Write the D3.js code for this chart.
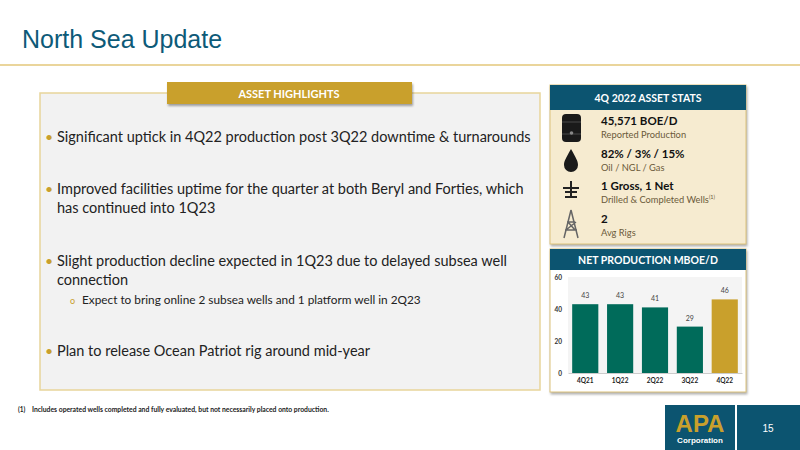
<!DOCTYPE html>
<html><head><meta charset="utf-8">
<script src="https://cdn.jsdelivr.net/npm/d3@7"></script>
<style>body{margin:0;background:#fff}svg{display:block;font-family:Lato,"Open Sans",sans-serif}</style>
</head><body><svg id="s" width="800" height="450"></svg>
<script>
var quarters = ["4Q21", "1Q22", "2Q22", "3Q22", "4Q22"];
var production = [43, 43, 41, 29, 46];
var yTicks = [0, 20, 40, 60];
var bullets = [
  ["Significant uptick in 4Q22 production post 3Q22 downtime & turnarounds"],
  ["Improved facilities uptime for the quarter at both Beryl and Forties, which", "has continued into 1Q23"],
  ["Slight production decline expected in 1Q23 due to delayed subsea well", "connection"],
  ["Plan to release Ocean Patriot rig around mid-year"]
];
var bulletY = [142, 194, 266, 356];
var stats = [
  ["45,571 BOE/D", "Reported Production"],
  ["82% / 3% / 15%", "Oil  / NGL  /  Gas"],
  ["1 Gross, 1 Net", "Drilled & Completed Wells"],
  ["2", "Avg Rigs"]
];
var teal = "#0c5470", gold = "#c9a02c", green = "#006b5a";
var svg = d3.select("#s");

svg.append("text").attr("x", 22).attr("y", 48).attr("font-family", "Liberation Sans, Arial").attr("font-size", 25).attr("fill", "#0d5a78").text("North Sea Update");
svg.append("line").attr("x1", 0).attr("x2", 800).attr("y1", 65).attr("y2", 65).attr("stroke", "#e3c77a").attr("stroke-width", 1.5);

// left panel
svg.append("rect").attr("x", 40).attr("y", 93).attr("width", 500).attr("height", 297).attr("fill", "#f2f2f2").attr("stroke", "#e8d59a").attr("stroke-width", 1.5);
svg.append("rect").attr("x", 167).attr("y", 82).attr("width", 245).attr("height", 22).attr("fill", gold).style("filter", "drop-shadow(1px 2px 1px rgba(0,0,0,.35))");
svg.append("text").attr("x", 289).attr("y", 97.5).attr("text-anchor", "middle").attr("fill", "#fff").attr("font-weight", "bold").attr("font-size", 11).text("ASSET HIGHLIGHTS");

bullets.forEach(function (lines, i) {
  svg.append("text").attr("x", 45).attr("y", bulletY[i]).attr("fill", gold).attr("font-size", 14).text("•");
  lines.forEach(function (l, j) {
    svg.append("text").attr("x", 57).attr("y", bulletY[i] + j * 19).attr("fill", "#222").attr("font-size", 14.5).text(l);
  });
});
svg.append("text").attr("x", 70).attr("y", 304).attr("fill", gold).attr("font-size", 9).text("o");
svg.append("text").attr("x", 82).attr("y", 304).attr("fill", "#222").attr("font-size", 11.8).text("Expect to bring online 2 subsea wells and 1 platform well in 2Q23");

svg.append("text").attr("x", 18).attr("y", 412).attr("font-size", 6.5).attr("font-weight", "bold").attr("fill", "#222").text("(1)");
svg.append("text").attr("x", 32).attr("y", 412).attr("font-size", 6.8).attr("font-weight", "bold").attr("fill", "#222").text("Includes operated wells completed and fully evaluated, but not necessarily placed onto production.");

// stats box
svg.append("rect").attr("x", 550).attr("y", 85).attr("width", 196).attr("height", 159).attr("fill", "#f6ebd0").attr("stroke", "#dcc27a").style("filter", "drop-shadow(1px 2px 1px rgba(0,0,0,.3))");
svg.append("rect").attr("x", 550).attr("y", 85).attr("width", 196).attr("height", 25).attr("fill", teal);
svg.append("text").attr("x", 648).attr("y", 101.5).attr("text-anchor", "middle").attr("fill", "#fff").attr("font-weight", "bold").attr("font-size", 10.5).text("4Q 2022 ASSET STATS");
stats.forEach(function (s, i) {
  var y = 125 + i * 32.5;
  svg.append("text").attr("x", 601).attr("y", y).attr("font-weight", "bold").attr("font-size", 11.5).attr("fill", "#111").text(s[0]);
  var t = svg.append("text").attr("x", 601).attr("y", y + 13).attr("font-size", 9.3).attr("fill", "#6b5a3a").text(s[1]);
  if (i === 2) t.append("tspan").attr("font-size", 5.5).attr("dy", -4).text("(1)");
});
// icons
var ic = svg.append("g").attr("fill", "#1a1a1a");
ic.append("rect").attr("x", 562).attr("y", 114).attr("width", 19).attr("height", 28).attr("rx", 4);
ic.append("path").attr("d", "M562,122h19M562,134h19").attr("stroke", "#555").attr("stroke-width", 0.8);
ic.append("circle").attr("cx", 571.5).attr("cy", 133).attr("r", 1.8).attr("fill", "#888");
ic.append("path").attr("d", "M571,149 C566,158 564,161 564,165 A7,7 0 0 0 578,165 C578,161 576,158 571,149Z");
ic.append("path").attr("d", "M563,188h16M565,192h12M571,181v16M565,197h12").attr("stroke", "#222").attr("stroke-width", 2).attr("fill", "none");
ic.append("path").attr("d", "M571,210 L564,238 M571,210 L578,238 M565,230h12 M567,222h8 M566,230l10,-8 M568,222l7,8").attr("stroke", "#666").attr("stroke-width", 1.5).attr("fill", "none");

// chart box
svg.append("rect").attr("x", 550).attr("y", 249).attr("width", 196).attr("height", 143).attr("fill", "#fff").attr("stroke", "#dcc27a").style("filter", "drop-shadow(1px 2px 1px rgba(0,0,0,.3))");
svg.append("rect").attr("x", 550).attr("y", 249).attr("width", 196).attr("height", 21).attr("fill", teal);
svg.append("text").attr("x", 648).attr("y", 263.5).attr("text-anchor", "middle").attr("fill", "#fff").attr("font-weight", "bold").attr("font-size", 10.5).text("NET PRODUCTION MBOE/D");

var x = d3.scaleBand().domain(quarters).range([568, 742]).paddingInner(0.25).paddingOuter(0.12);
var y = d3.scaleLinear().domain([0, 60]).range([373, 277]);
svg.append("rect").attr("x", 568).attr("y", 277).attr("width", 174).attr("height", 96).attr("fill", "#f4f4f4");
var ya = svg.append("g").attr("transform", "translate(564,0)").call(d3.axisLeft(y).tickValues(yTicks).tickSize(0).tickPadding(2));
ya.select(".domain").remove();
ya.selectAll("text").attr("font-size", 6.5).attr("font-weight", "bold").attr("fill", "#333").attr("font-family", "Lato");
svg.selectAll(".bar").data(production).enter().append("rect")
  .attr("x", function (d, i) { return x(quarters[i]); }).attr("width", x.bandwidth())
  .attr("y", function (d) { return y(d); }).attr("height", function (d) { return y(0) - y(d); })
  .attr("fill", function (d, i) { return i === 4 ? gold : green; });
svg.selectAll(".lbl").data(production).enter().append("text")
  .attr("x", function (d, i) { return x(quarters[i]) + x.bandwidth() / 2; }).attr("y", function (d) { return y(d) - 6; })
  .attr("text-anchor", "middle").attr("font-size", 7).attr("fill", "#444").text(function (d) { return d; });
var xa = svg.append("g").attr("transform", "translate(0,373)").call(d3.axisBottom(x).tickSize(0).tickPadding(5));
xa.select(".domain").attr("stroke", "#ccc");
xa.selectAll("text").attr("font-size", 6.5).attr("font-weight", "bold").attr("fill", "#222").attr("font-family", "Lato");

// footer logo
svg.append("rect").attr("x", 665).attr("y", 405).attr("width", 70).attr("height", 45).attr("fill", teal);
svg.append("rect").attr("x", 737).attr("y", 405).attr("width", 63).attr("height", 45).attr("fill", teal);
svg.append("text").attr("x", 700).attr("y", 432).attr("text-anchor", "middle").attr("font-family", "Liberation Sans").attr("font-weight", "bold").attr("font-size", 24).attr("fill", gold).text("APA");
svg.append("text").attr("x", 700).attr("y", 443).attr("text-anchor", "middle").attr("font-family", "Liberation Sans").attr("font-weight", "bold").attr("font-size", 8).attr("fill", "#fff").text("Corporation");
svg.append("text").attr("x", 768).attr("y", 432).attr("text-anchor", "middle").attr("font-family", "Liberation Sans").attr("font-size", 10).attr("fill", "#fff").text("15");
</script></body></html>
